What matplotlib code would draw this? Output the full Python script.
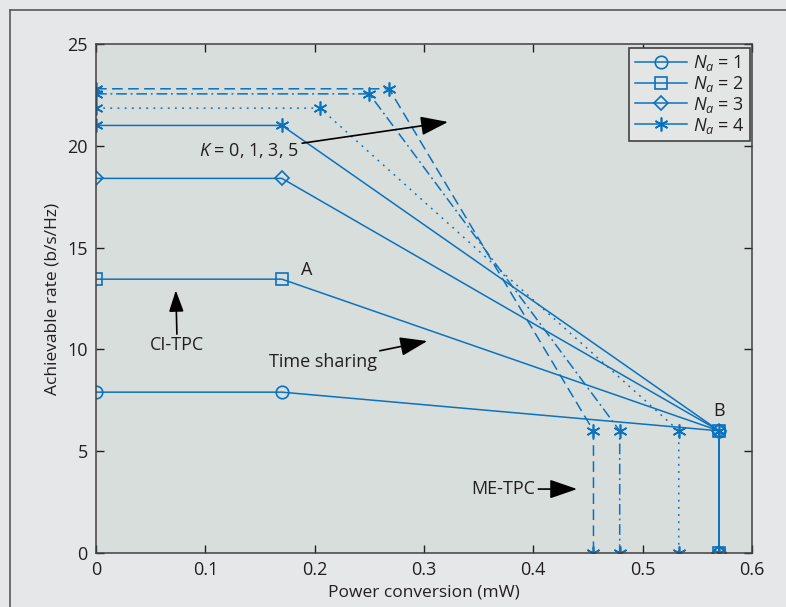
import matplotlib
matplotlib.use("Agg")
import matplotlib.pyplot as plt
from matplotlib.lines import Line2D

plt.rcParams['font.family'] = ['Open Sans', 'DejaVu Sans']
plt.rcParams['mathtext.fontset'] = 'custom'
plt.rcParams['mathtext.it'] = 'Open Sans:italic'
plt.rcParams['mathtext.rm'] = 'Open Sans'

# ---- data ----
x_base = [0, 0.17, 0.57, 0.57]
n1_y = [7.9, 7.9, 6.0, 0]
n2_y = [13.45, 13.45, 6.0, 0]
n3_y = [18.4, 18.4, 6.0, 0]
n4k0_x = [0, 0.17, 0.57, 0.57]
n4k0_y = [21.0, 21.0, 6.0, 0]
n4k1_x = [0, 0.205, 0.533, 0.533]
n4k1_y = [21.85, 21.85, 6.0, 0]
n4k3_x = [0, 0.25, 0.479, 0.479]
n4k3_y = [22.55, 22.55, 6.0, 0]
n4k5_x = [0, 0.268, 0.455, 0.455]
n4k5_y = [22.8, 22.8, 6.0, 0]
legend_labels = ['$N_a$ = 1', '$N_a$ = 2', '$N_a$ = 3', '$N_a$ = 4']
xticks = [0, 0.1, 0.2, 0.3, 0.4, 0.5, 0.6]
yticks = [0, 5, 10, 15, 20, 25]

blue = '#0b72bd'
fig_bg = '#e6e7e8'
ax_bg = '#d8dedc'
txt = '#231f20'

fig = plt.figure(figsize=(7.86, 6.07), dpi=100, facecolor=fig_bg)
# outer border
fig.add_artist(Line2D([10/786, 1.0], [1-10/607, 1-10/607], transform=fig.transFigure, color='#58595b', lw=1.2))
fig.add_artist(Line2D([10/786, 10/786], [1-10/607, 0.0], transform=fig.transFigure, color='#58595b', lw=1.2))

ax = fig.add_axes([96/786, 1-553/607, 656/786, 509/607])
ax.set_facecolor(ax_bg)

lw = 1.1
ms_kw = dict(markerfacecolor='none', markeredgecolor=blue, markeredgewidth=1.2)
star = (6, 2, 0)

l1, = ax.plot(x_base, n1_y, color=blue, lw=lw, marker='o', markersize=9, **ms_kw)
l2, = ax.plot(x_base, n2_y, color=blue, lw=lw, marker='s', markersize=8, **ms_kw)
l3, = ax.plot(x_base, n3_y, color=blue, lw=lw, marker='D', markersize=7.5, **ms_kw)
l4, = ax.plot(n4k0_x, n4k0_y, color=blue, lw=lw, marker=star, markersize=10, **ms_kw)
ax.plot(n4k1_x, n4k1_y, color=blue, lw=lw, linestyle=(0, (1.2, 3.5)), marker=star, markersize=10, **ms_kw)
ax.plot(n4k3_x, n4k3_y, color=blue, lw=lw, linestyle=(0, (7, 2.5, 1.2, 2.5)), marker=star, markersize=10, **ms_kw)
ax.plot(n4k5_x, n4k5_y, color=blue, lw=lw, linestyle=(0, (7, 3.5)), marker=star, markersize=10, **ms_kw)

ax.set_xlim(0, 0.6)
ax.set_ylim(0, 25)
ax.set_xticks(xticks)
ax.set_xticklabels(['0', '0.1', '0.2', '0.3', '0.4', '0.5', '0.6'])
ax.set_yticks(yticks)
ax.tick_params(direction='in', length=6, width=1, top=True, right=True,
               labelsize=13, colors=txt, pad=6)
for s in ax.spines.values():
    s.set_color('#414042')
    s.set_linewidth(1.1)

ax.set_xlabel('Power conversion (mW)', fontsize=12.5, color=txt, labelpad=4)
ax.set_ylabel('Achievable rate (b/s/Hz)', fontsize=12.5, color=txt, labelpad=5)

leg = ax.legend([l1, l2, l3, l4], legend_labels, loc='upper right',
                bbox_to_anchor=(0.997, 0.993), borderaxespad=0, fontsize=13,
                fancybox=False, framealpha=1, facecolor='#e4e6e5', edgecolor='#414042',
                handlelength=2.9, handletextpad=0.3, labelspacing=0.05, borderpad=0.3)
leg.get_frame().set_linewidth(1.2)
for t in leg.get_texts():
    t.set_color(txt)

akw = dict(arrowstyle='-|>,head_length=1.3,head_width=0.45', color='black', lw=1.2,
           shrinkA=0, shrinkB=0)
ax.annotate('$K$ = 0, 1, 3, 5', xy=(0.322, 21.17), xytext=(0.186, 19.75),
            fontsize=13, color=txt, ha='right', va='center', arrowprops=akw)
ax.annotate('Time sharing', xy=(0.303, 10.41), xytext=(0.257, 9.36),
            fontsize=13, color=txt, ha='right', va='center', arrowprops=akw)
ax.annotate('ME-TPC', xy=(0.440, 3.14), xytext=(0.402, 3.14),
            fontsize=13, color=txt, ha='right', va='center', arrowprops=akw)
ax.annotate('', xy=(0.073, 12.9), xytext=(0.074, 10.75), arrowprops=akw)
ax.text(0.074, 10.2, 'CI-TPC', fontsize=13, color=txt, ha='center', va='center')
ax.text(0.193, 13.9, 'A', fontsize=13, color=txt, ha='center', va='center')
ax.text(0.570, 6.95, 'B', fontsize=13, color=txt, ha='center', va='center')

fig.savefig('out.png', dpi=100, facecolor=fig_bg)
